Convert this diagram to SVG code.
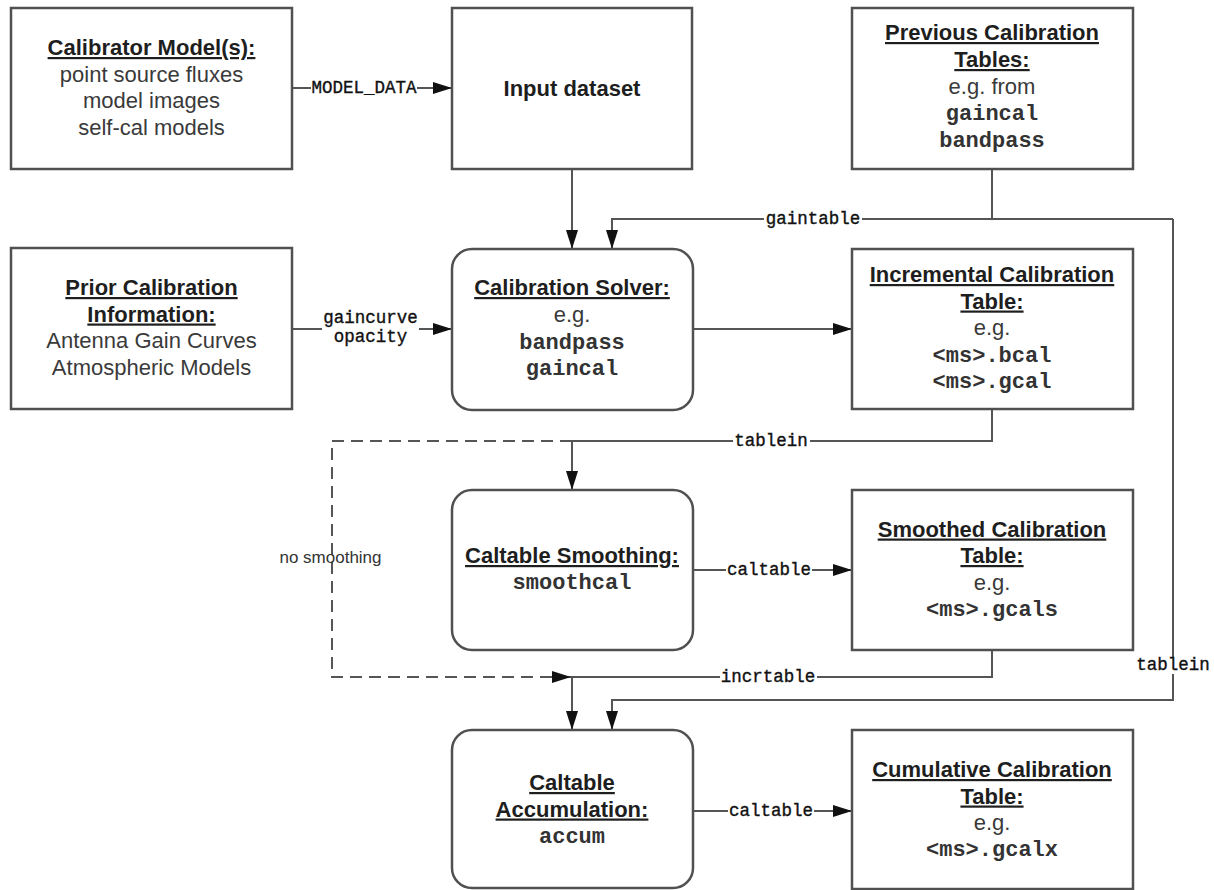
<svg xmlns="http://www.w3.org/2000/svg" width="1214" height="890" viewBox="0 0 1214 890">
<style>
.box{fill:#fff;stroke:#505050;stroke-width:2.5}
.t{font-family:"Liberation Sans",Arial,sans-serif;font-size:22px;text-anchor:middle;fill:#3a3a3a}
.h{font-weight:bold;fill:#1e1e1e;text-decoration:underline}
.b{font-weight:bold;fill:#1e1e1e}
.m{font-family:"Liberation Mono","Courier New",monospace;font-weight:bold;font-size:22px;fill:#333;text-anchor:middle}
.c{fill:none;stroke:#555;stroke-width:2}
.d{stroke-dasharray:12 7}
.lbl{font-family:"Liberation Mono","Courier New",monospace;font-size:17.5px;fill:#111;stroke:#111;stroke-width:0.35;text-anchor:middle}
.ns{font-family:"Liberation Sans",Arial,sans-serif;font-size:17px;fill:#333;text-anchor:middle}
.bg{fill:#fff}
</style>
<defs>
<marker id="arr" viewBox="0 0 19 12" markerWidth="19" markerHeight="12" refX="19" refY="6" orient="auto" markerUnits="userSpaceOnUse">
<path d="M0,0 L19,6 L0,12 Z" fill="#111"/>
</marker>
</defs>
<rect width="1214" height="890" fill="#fff"/>

<g id="connectors">
<path class="c" d="M292,88 H452" marker-end="url(#arr)"/>
<path class="c" d="M572,169 V249" marker-end="url(#arr)"/>
<path class="c" d="M992,169 V219"/>
<path class="c" d="M1173,219 H612 V249" marker-end="url(#arr)"/>
<path class="c" d="M1173,219 V700 H612 V730" marker-end="url(#arr)"/>
<path class="c" d="M292,329 H452" marker-end="url(#arr)"/>
<path class="c" d="M693,329 H852" marker-end="url(#arr)"/>
<path class="c" d="M992,409 V441 H572 V490" marker-end="url(#arr)"/>
<path class="c d" d="M572,441 H332 V677 H571" marker-end="url(#arr)"/>
<path class="c" d="M693,570 H852" marker-end="url(#arr)"/>
<path class="c" d="M992,650 V677 H572 V730" marker-end="url(#arr)"/>
<path class="c" d="M693,811 H852" marker-end="url(#arr)"/>

<rect class="bg" x="311" y="80" width="106" height="16"/>
<text class="lbl" x="364" y="93">MODEL_DATA</text>
<rect class="bg" x="322" y="309" width="97" height="37"/>
<text class="lbl" x="370.5" y="323">gaincurve</text>
<text class="lbl" x="370.5" y="342">opacity</text>
<rect class="bg" x="764" y="211" width="98" height="16"/>
<text class="lbl" x="813" y="224">gaintable</text>
<rect class="bg" x="733" y="433" width="77" height="16"/>
<text class="lbl" x="771" y="446">tablein</text>
<rect class="bg" x="726" y="562" width="86" height="16"/>
<text class="lbl" x="769" y="575">caltable</text>
<rect class="bg" x="720" y="669" width="97" height="16"/>
<text class="lbl" x="768" y="682">incrtable</text>
<rect class="bg" x="1135" y="657" width="77" height="17"/>
<text class="lbl" x="1173" y="670">tablein</text>
<rect class="bg" x="728" y="803" width="86" height="16"/>
<text class="lbl" x="771" y="816">caltable</text>
<text class="ns" x="330.5" y="563">no smoothing</text>
</g>

<g id="calibrator-models">
<rect class="box" x="11" y="8" width="281" height="161"/>
<text class="t h" x="151.5" y="55">Calibrator Model(s):</text>
<text class="t" x="151.5" y="82">point source fluxes</text>
<text class="t" x="151.5" y="108">model images</text>
<text class="t" x="151.5" y="135">self-cal models</text>
</g>

<g id="input-dataset">
<rect class="box" x="452" y="8" width="240" height="161"/>
<text class="t b" x="572" y="96">Input dataset</text>
</g>

<g id="previous-tables">
<rect class="box" x="852" y="8" width="281" height="161"/>
<text class="t h" x="992" y="40">Previous Calibration</text>
<text class="t h" x="992" y="67">Tables:</text>
<text class="t" x="992" y="93.5">e.g. from</text>
<text class="m" x="992" y="120">gaincal</text>
<text class="m" x="992" y="146.5">bandpass</text>
</g>

<g id="prior-info">
<rect class="box" x="11" y="248" width="281" height="161"/>
<text class="t h" x="151.5" y="295">Prior Calibration</text>
<text class="t h" x="151.5" y="321.5">Information:</text>
<text class="t" x="151.5" y="348">Antenna Gain Curves</text>
<text class="t" x="151.5" y="374.5">Atmospheric Models</text>
</g>

<g id="calibration-solver">
<rect class="box" x="452" y="249" width="241" height="161" rx="20" ry="20"/>
<text class="t h" x="572" y="295">Calibration Solver:</text>
<text class="t" x="572" y="322">e.g.</text>
<text class="m" x="572" y="348.5">bandpass</text>
<text class="m" x="572" y="375">gaincal</text>
</g>

<g id="incremental-table">
<rect class="box" x="852" y="249" width="281" height="160"/>
<text class="t h" x="992" y="282">Incremental Calibration</text>
<text class="t h" x="992" y="308.5">Table:</text>
<text class="t" x="992" y="335">e.g.</text>
<text class="m" x="992" y="361.5">&lt;ms&gt;.bcal</text>
<text class="m" x="992" y="388">&lt;ms&gt;.gcal</text>
</g>

<g id="caltable-smoothing">
<rect class="box" x="452" y="490" width="241" height="160" rx="20" ry="20"/>
<text class="t h" x="572" y="563">Caltable Smoothing:</text>
<text class="m" x="572" y="589">smoothcal</text>
</g>

<g id="smoothed-table">
<rect class="box" x="852" y="490" width="281" height="160"/>
<text class="t h" x="992" y="536.5">Smoothed Calibration</text>
<text class="t h" x="992" y="563">Table:</text>
<text class="t" x="992" y="589.5">e.g.</text>
<text class="m" x="992" y="616">&lt;ms&gt;.gcals</text>
</g>

<g id="caltable-accumulation">
<rect class="box" x="452" y="730" width="241" height="158" rx="20" ry="20"/>
<text class="t h" x="572" y="790">Caltable</text>
<text class="t h" x="572" y="816.5">Accumulation:</text>
<text class="m" x="572" y="843">accum</text>
</g>

<g id="cumulative-table">
<rect class="box" x="852" y="730" width="281" height="159"/>
<text class="t h" x="992" y="777">Cumulative Calibration</text>
<text class="t h" x="992" y="803.5">Table:</text>
<text class="t" x="992" y="830">e.g.</text>
<text class="m" x="992" y="856">&lt;ms&gt;.gcalx</text>
</g>
</svg>
